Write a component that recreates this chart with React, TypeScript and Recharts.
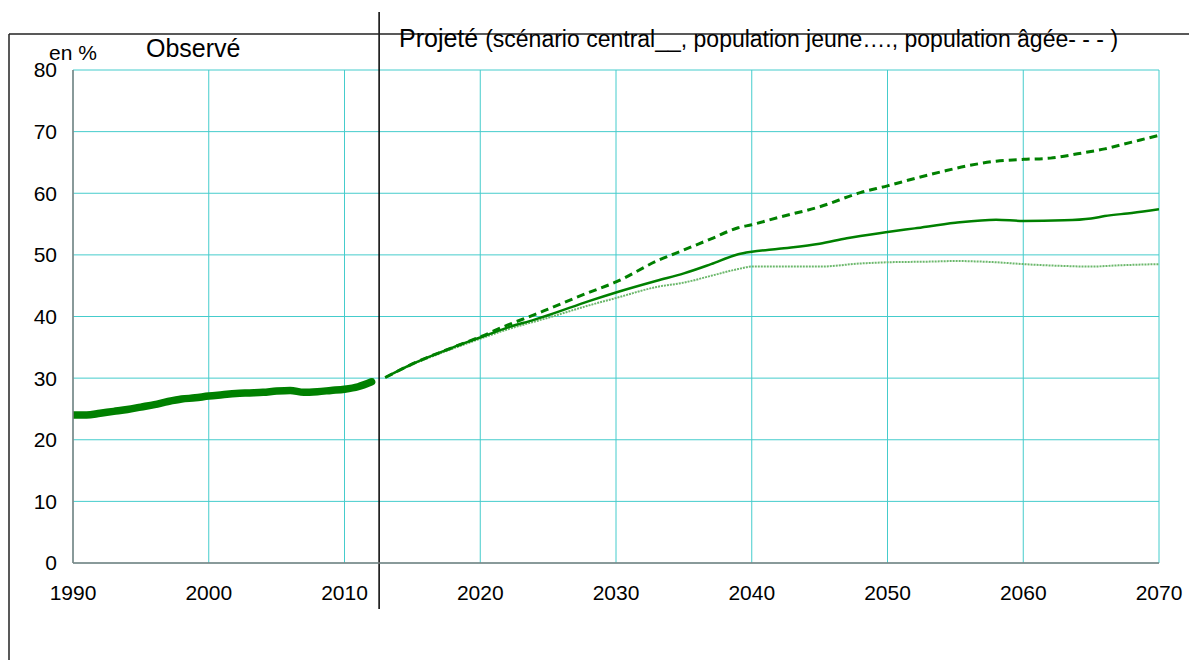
import { CartesianGrid, Line, LineChart, ReferenceLine, XAxis, YAxis } from 'recharts';

// observed share, 1990-2012
const observedYears = [
  1990, 1991, 1992, 1993, 1994, 1995, 1996, 1997, 1998, 1999, 2000, 2001, 2002, 2003, 2004, 2005,
  2006, 2007, 2008, 2009, 2010, 2011, 2012,
];
const observedValues = [
  24.0, 24.0, 24.3, 24.6, 24.9, 25.3, 25.7, 26.2, 26.6, 26.8, 27.1, 27.3, 27.5, 27.6, 27.7, 27.9,
  28.0, 27.7, 27.8, 28.0, 28.2, 28.6, 29.4,
];

// projections
const centralYears = [
  2013, 2015, 2018, 2020, 2022, 2024, 2025, 2028, 2030, 2033, 2035, 2037, 2039, 2040, 2042, 2045,
  2047, 2050, 2052, 2055, 2058, 2060, 2063, 2065, 2066, 2068, 2070,
];
const centralValues = [
  30.1, 32.3, 35.0, 36.6, 38.2, 39.5, 40.2, 42.5, 43.9, 45.8, 47.0, 48.5, 50.1, 50.5, 51.0, 51.8,
  52.7, 53.7, 54.3, 55.2, 55.7, 55.5, 55.6, 55.9, 56.3, 56.8, 57.4,
];

const youngYears = [
  2013, 2015, 2018, 2020, 2022, 2025, 2028, 2030, 2033, 2035, 2037, 2039, 2040, 2042, 2045, 2048,
  2050, 2053, 2055, 2057, 2058, 2060, 2063, 2065, 2067, 2070,
];
const youngValues = [
  30.1, 32.2, 34.8, 36.4, 37.9, 39.8, 41.8, 43.0, 44.8, 45.5, 46.6, 47.7, 48.1, 48.1, 48.1, 48.6,
  48.8, 48.9, 49.0, 48.9, 48.8, 48.5, 48.2, 48.1, 48.3, 48.5,
];

const oldYears = [
  2013, 2015, 2018, 2020, 2022, 2024, 2025, 2028, 2030, 2033, 2035, 2037, 2039, 2040, 2042, 2045,
  2048, 2050, 2052, 2054, 2056, 2058, 2060, 2062, 2064, 2066, 2068, 2070,
];
const oldValues = [
  30.1, 32.3, 35.0, 36.7, 38.6, 40.3, 41.2, 43.9, 45.6, 49.0, 50.8, 52.6, 54.4, 54.9, 56.1, 57.8,
  60.1, 61.2, 62.4, 63.5, 64.5, 65.2, 65.5, 65.7, 66.4, 67.2, 68.3, 69.4,
];

const xTicks = [1990, 2000, 2010, 2020, 2030, 2040, 2050, 2060, 2070];
const yTicks = [0, 10, 20, 30, 40, 50, 60, 70, 80];
const splitYear = 2012.55;

const toRows = (years: number[], values: number[]) =>
  years.map((year, i) => ({ year, value: values[i] }));

const observed = toRows(observedYears, observedValues);
const central = toRows(centralYears, centralValues);
const young = toRows(youngYears, youngValues);
const old = toRows(oldYears, oldValues);

const font = '"Liberation Sans", Arial, sans-serif';
const green = '#008000';
const gridColor = '#45cccc';

function SplitLine(props: { x1?: number; y1?: number; x2?: number; y2?: number }) {
  const { x1 = 0, y1 = 0, y2 = 0 } = props;
  const top = Math.min(y1, y2);
  const bottom = Math.max(y1, y2);
  return <line x1={x1} x2={x1} y1={top - 58} y2={bottom + 46} stroke="#000" strokeWidth={1.5} />;
}

export default function App() {
  return (
    <div style={{ position: 'absolute', left: 0, top: 0, width: 1189, height: 660, background: '#fff' }}>
      <LineChart
        width={1189}
        height={660}
        margin={{ top: 70, right: 30, bottom: 67, left: 0 }}
        style={{ fontFamily: font }}
      >
        <CartesianGrid stroke={gridColor} strokeWidth={1} />
        <XAxis
          type="number"
          dataKey="year"
          domain={[1990, 2070]}
          ticks={xTicks}
          allowDataOverflow
          height={30}
          tickLine={false}
          tickSize={0}
          tickMargin={22}
          axisLine={{ stroke: '#808080', strokeWidth: 1.5 }}
          tick={{ fontSize: 21, fill: '#000' }}
        />
        <YAxis
          type="number"
          domain={[0, 80]}
          ticks={yTicks}
          width={73}
          tickLine={false}
          tickSize={0}
          tickMargin={16}
          axisLine={{ stroke: '#808080', strokeWidth: 1.5 }}
          tick={{ fontSize: 21, fill: '#000' }}
        />
        <ReferenceLine x={splitYear} shape={<SplitLine />} ifOverflow="visible" />
        <Line
          data={young}
          dataKey="value"
          type="monotone"
          stroke="#6cb86c"
          strokeWidth={2}
          strokeDasharray="2 1"
          dot={false}
          activeDot={false}
          isAnimationActive={false}
        />
        <Line
          data={old}
          dataKey="value"
          type="monotone"
          stroke={green}
          strokeWidth={3}
          strokeDasharray="8 5"
          dot={false}
          activeDot={false}
          isAnimationActive={false}
        />
        <Line
          data={central}
          dataKey="value"
          type="monotone"
          stroke={green}
          strokeWidth={2.5}
          dot={false}
          activeDot={false}
          isAnimationActive={false}
        />
        <Line
          data={observed}
          dataKey="value"
          type="monotone"
          stroke={green}
          strokeWidth={7.5}
          strokeLinecap="round"
          dot={false}
          activeDot={false}
          isAnimationActive={false}
        />
      </LineChart>
      <svg
        width={1189}
        height={660}
        style={{ position: 'absolute', left: 0, top: 0, pointerEvents: 'none', fontFamily: font }}
      >
        <line x1={9} y1={34} x2={1189} y2={34} stroke="#222" strokeWidth={1.5} />
        <line x1={9} y1={34} x2={9} y2={660} stroke="#222" strokeWidth={1.5} />
        <text x={49} y={60} fontSize={21} fill="#000">en %</text>
        <text x={146} y={57} fontSize={25} fill="#000">Observé</text>
        <text x={399} y={47} fill="#000">
          <tspan fontSize={25}>Projeté </tspan>
          <tspan fontSize={23}>(scénario central__, population jeune…., population âgée- - - )</tspan>
        </text>
      </svg>
    </div>
  );
}
